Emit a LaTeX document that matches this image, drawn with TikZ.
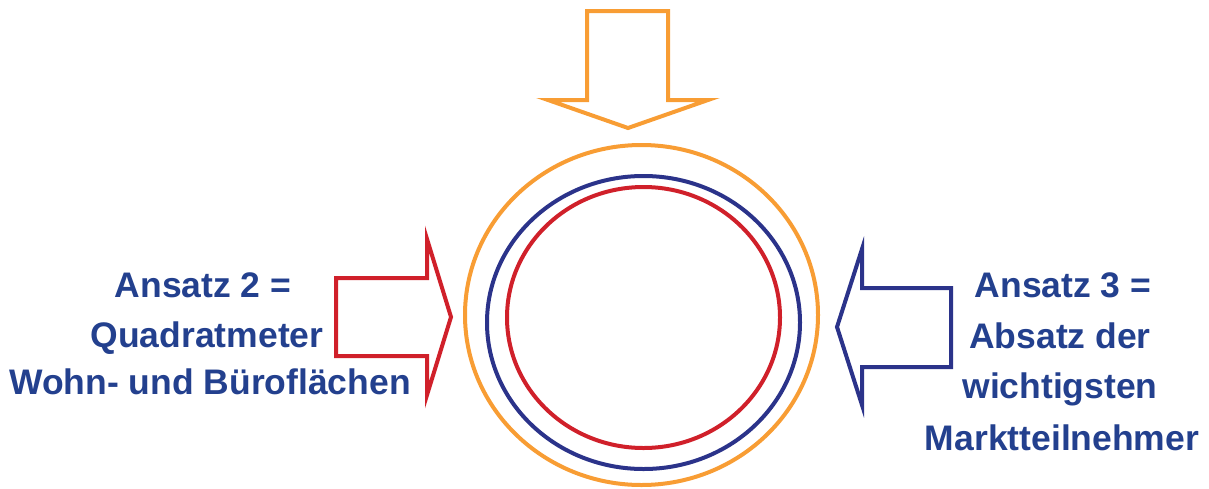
\documentclass[tikz,border=0pt]{standalone}
\usepackage{fontspec}
\setmainfont{Liberation Sans}
\definecolor{txtblue}{RGB}{35,64,142}
\definecolor{arrblue}{RGB}{43,51,138}
\definecolor{arrred}{RGB}{208,32,42}
\definecolor{arrorange}{RGB}{248,157,52}
\begin{document}
\begin{tikzpicture}[x=1pt,y=-1pt,
  outline/.style={line width=4pt, line join=miter, miter limit=10},
  lbl/.style={text=txtblue, font=\fontsize{35.5}{40}\selectfont\bfseries, anchor=base, inner sep=0pt}]
\useasboundingbox (0,0) rectangle (1209,488);
% rings
\draw[arrorange, line width=4pt] (641.5,315) ellipse [x radius=176.5, y radius=170];
\draw[arrblue, line width=4pt] (643.5,322.5) ellipse [x radius=156.5, y radius=146.5];
\draw[arrred, line width=4pt] (643.5,317.5) ellipse [x radius=136.5, y radius=130.5];
% top arrow
\draw[arrorange, outline] (587,11) -- (668,11) -- (668,100) -- (708,100) -- (628,128) -- (548,100) -- (587,100) -- cycle;
% left arrow
\draw[arrred, outline] (336,278) -- (427,278) -- (427,239) -- (451,317) -- (427,395) -- (427,356) -- (336,356) -- cycle;
% right arrow
\draw[arrblue, outline] (951,288) -- (862,288) -- (862,249) -- (837,327) -- (862,405) -- (862,367) -- (951,367) -- cycle;
% left text
\node[lbl] (l1) at (203,297) {Ansatz 2 =};
\node[lbl] (l2) at (207,347) {Quadratmeter};
\node[lbl] (l3) at (210,394) {Wohn- und Büroflächen};
% right text
\node[lbl] (r1) at (1063,297) {Ansatz 3 =};
\node[lbl] (r2) at (1060,348) {Absatz der};
\node[lbl] (r3) at (1060,398) {wichtigsten};
\node[lbl] (r4) at (1062,450) {Marktteilnehmer};
\end{tikzpicture}
\end{document}
